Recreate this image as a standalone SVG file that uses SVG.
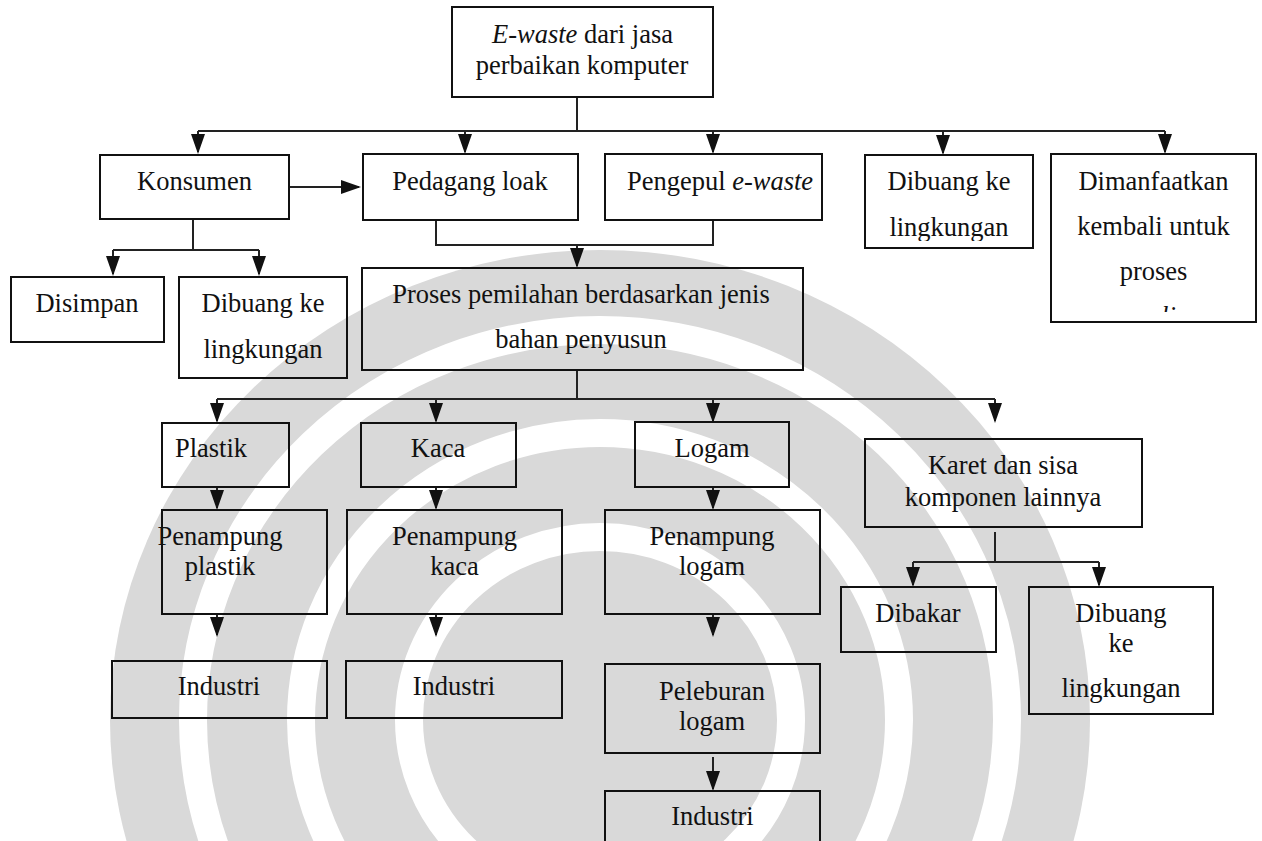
<svg xmlns="http://www.w3.org/2000/svg" width="1262" height="841" viewBox="0 0 1262 841">
  <style>
    .box { fill: none; stroke: #111; stroke-width: 2; }
    .lbl { font-family: "Liberation Serif", "Times New Roman", serif; font-size: 26.5px; fill: #111; text-anchor: middle; }
    .it { font-style: italic; }
    .wire { fill: none; stroke: #222; stroke-width: 2; }
    .arr { fill: none; stroke: #222; stroke-width: 2; marker-end: url(#head); }
    .band { fill: none; stroke: #fff; stroke-width: 28; }
  </style>
  <defs>
    <marker id="head" viewBox="0 0 20 14" refX="18" refY="7" markerWidth="20" markerHeight="14" markerUnits="userSpaceOnUse" orient="auto">
      <path d="M0,0 L20,7 L0,14 z" fill="#111"/>
    </marker>
    <clipPath id="clip-dibuang-atas"><rect x="866" y="156" width="166" height="85"/></clipPath>
    <clipPath id="clip-dimanfaatkan"><rect x="1052" y="155" width="203" height="157"/></clipPath>
  </defs>

  <rect width="1262" height="841" fill="#fff"/>

  <!-- faint page watermark behind the chart: grey arched bands -->
  <g id="watermark">
    <ellipse cx="600" cy="720" rx="490" ry="470" fill="#d9d9d9"/>
    <ellipse class="band" cx="600" cy="720" rx="407" ry="390"/>
    <ellipse class="band" cx="600" cy="720" rx="299" ry="287"/>
    <ellipse class="band" cx="600" cy="720" rx="191" ry="183"/>
  </g>

  <!-- connectors -->
  <g id="connectors">
    <path class="wire" d="M577,98 V131 M198,131 H1165"/>
    <path class="arr" d="M198,131 V152"/>
    <path class="arr" d="M465,131 V152"/>
    <path class="arr" d="M713,131 V152"/>
    <path class="arr" d="M943,131 V153"/>
    <path class="arr" d="M1165,131 V152"/>
    <path class="arr" d="M289,187 H359"/>
    <path class="wire" d="M193,219 V250 M113,250 H259"/>
    <path class="arr" d="M113,250 V274"/>
    <path class="arr" d="M259,250 V274"/>
    <path class="wire" d="M436,220 V245 H713 V220"/>
    <path class="arr" d="M577,245 V266"/>
    <path class="wire" d="M577,370 V399 M217,399 H995"/>
    <path class="arr" d="M217,399 V421"/>
    <path class="arr" d="M436,399 V421"/>
    <path class="arr" d="M713,399 V421"/>
    <path class="arr" d="M995,399 V421"/>
    <path class="arr" d="M217,487 V508"/>
    <path class="arr" d="M436,487 V508"/>
    <path class="arr" d="M713,487 V508"/>
    <path class="arr" d="M217,614 V635"/>
    <path class="arr" d="M436,614 V635"/>
    <path class="arr" d="M713,614 V635"/>
    <path class="arr" d="M713,757 V789"/>
    <path class="wire" d="M995,532 V562 M913,562 H1099"/>
    <path class="arr" d="M913,562 V585"/>
    <path class="arr" d="M1099,562 V585"/>
  </g>

  <!-- nodes -->
  <g id="n-ewaste">
    <rect class="box" x="452" y="7" width="261" height="90"/>
    <text class="lbl" x="582.5" y="43"><tspan class="it">E-waste</tspan> dari jasa</text>
    <text class="lbl" x="582" y="74">perbaikan komputer</text>
  </g>
  <g id="n-konsumen">
    <rect class="box" x="100" y="155" width="189" height="64"/>
    <text class="lbl" x="194.5" y="190">Konsumen</text>
  </g>
  <g id="n-pedagang">
    <rect class="box" x="363" y="154" width="215" height="66"/>
    <text class="lbl" x="470" y="190">Pedagang loak</text>
  </g>
  <g id="n-pengepul">
    <rect class="box" x="605" y="154" width="217" height="66"/>
    <text class="lbl" x="720" y="190">Pengepul <tspan class="it">e-waste</tspan></text>
  </g>
  <g id="n-dibuang-atas">
    <rect class="box" x="865" y="155" width="168" height="93"/>
    <g clip-path="url(#clip-dibuang-atas)">
      <text class="lbl" x="949" y="190">Dibuang ke</text>
      <text class="lbl" x="949" y="236">lingkungan</text>
    </g>
  </g>
  <g id="n-dimanfaatkan">
    <rect class="box" x="1051" y="154" width="205" height="168"/>
    <g clip-path="url(#clip-dimanfaatkan)">
      <text class="lbl" x="1153.5" y="190">Dimanfaatkan</text>
      <text class="lbl" x="1153.5" y="235">kembali untuk</text>
      <text class="lbl" x="1153.5" y="280">proses</text>
      <text class="lbl it" x="1153.5" y="325">recycling</text>
    </g>
  </g>
  <g id="n-disimpan">
    <rect class="box" x="11" y="277" width="153" height="65"/>
    <text class="lbl" x="87" y="312">Disimpan</text>
  </g>
  <g id="n-dibuang-konsumen">
    <rect class="box" x="179" y="277" width="168" height="101"/>
    <text class="lbl" x="263" y="312">Dibuang ke</text>
    <text class="lbl" x="263" y="358">lingkungan</text>
  </g>
  <g id="n-pemilahan">
    <rect class="box" x="362" y="268" width="441" height="102"/>
    <text class="lbl" x="581" y="303">Proses pemilahan berdasarkan jenis</text>
    <text class="lbl" x="581" y="348">bahan penyusun</text>
  </g>
  <g id="n-plastik">
    <rect class="box" x="162" y="423" width="127" height="64"/>
    <text class="lbl" x="211" y="457">Plastik</text>
  </g>
  <g id="n-kaca">
    <rect class="box" x="361" y="423" width="155" height="64"/>
    <text class="lbl" x="438" y="457">Kaca</text>
  </g>
  <g id="n-logam">
    <rect class="box" x="635" y="422" width="154" height="65"/>
    <text class="lbl" x="712" y="457">Logam</text>
  </g>
  <g id="n-karet">
    <rect class="box" x="865" y="439" width="277" height="88"/>
    <text class="lbl" x="1003" y="474">Karet dan sisa</text>
    <text class="lbl" x="1003" y="506">komponen lainnya</text>
  </g>
  <g id="n-penampung-plastik">
    <rect class="box" x="162" y="510" width="165" height="104"/>
    <text class="lbl" x="220" y="545">Penampung</text>
    <text class="lbl" x="220" y="575">plastik</text>
  </g>
  <g id="n-penampung-kaca">
    <rect class="box" x="347" y="510" width="215" height="104"/>
    <text class="lbl" x="454.5" y="545">Penampung</text>
    <text class="lbl" x="454.5" y="575">kaca</text>
  </g>
  <g id="n-penampung-logam">
    <rect class="box" x="605" y="510" width="215" height="104"/>
    <text class="lbl" x="712" y="545">Penampung</text>
    <text class="lbl" x="712" y="575">logam</text>
  </g>
  <g id="n-industri-plastik">
    <rect class="box" x="112" y="661" width="215" height="57"/>
    <text class="lbl" x="219" y="695">Industri</text>
  </g>
  <g id="n-industri-kaca">
    <rect class="box" x="346" y="661" width="216" height="57"/>
    <text class="lbl" x="454" y="695">Industri</text>
  </g>
  <g id="n-peleburan">
    <rect class="box" x="605" y="664" width="215" height="89"/>
    <text class="lbl" x="712" y="700">Peleburan</text>
    <text class="lbl" x="712" y="730">logam</text>
  </g>
  <g id="n-industri-logam">
    <rect class="box" x="605" y="791" width="215" height="70"/>
    <text class="lbl" x="712.5" y="825">Industri</text>
  </g>
  <g id="n-dibakar">
    <rect class="box" x="841" y="587" width="155" height="65"/>
    <text class="lbl" x="918" y="622">Dibakar</text>
  </g>
  <g id="n-dibuang-karet">
    <rect class="box" x="1029" y="587" width="184" height="127"/>
    <text class="lbl" x="1121" y="622">Dibuang</text>
    <text class="lbl" x="1121" y="652">ke</text>
    <text class="lbl" x="1121" y="697">lingkungan</text>
  </g>
</svg>
